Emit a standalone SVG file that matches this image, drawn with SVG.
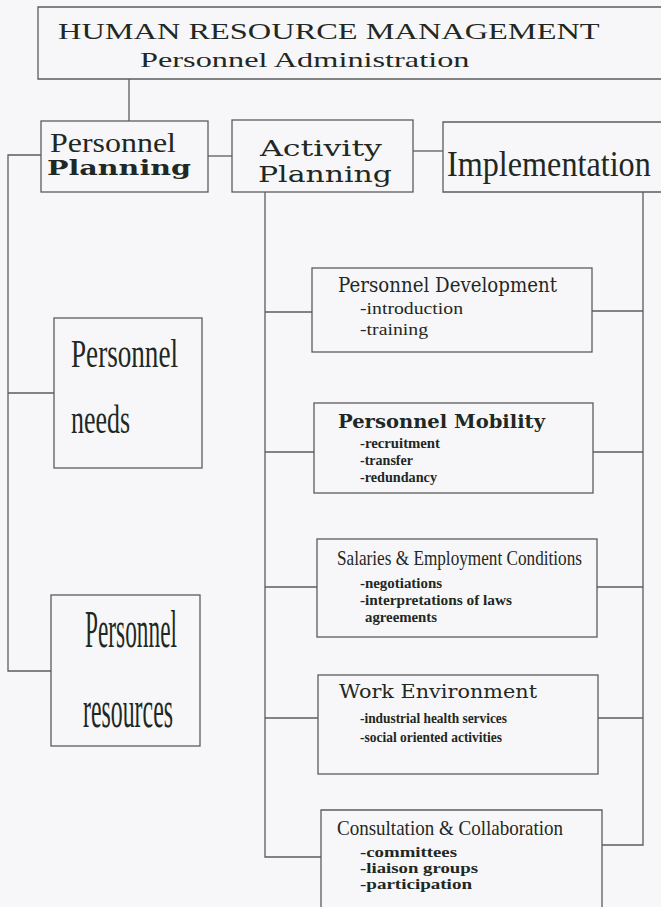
<svg xmlns="http://www.w3.org/2000/svg" width="661" height="907" viewBox="0 0 661 907">
<style>
.box{fill:none;stroke:#5c5c5c;stroke-width:1.3}
.ln{fill:none;stroke:#5c5c5c;stroke-width:1.3}
text{fill:#1f2823}
.tm{font-family:"Liberation Serif",serif}
.bk{font-family:"DejaVu Serif",serif}
.sub{font-family:"Liberation Serif",serif;font-weight:bold;font-size:14px}
</style>
<rect x="0" y="0" width="661" height="907" fill="#f7f7f9"/>
<g id="connectors">
<path class="ln" d="M129,79 V121"/>
<path class="ln" d="M208,156 H232"/>
<path class="ln" d="M413,151 H443"/>
<path class="ln" d="M41,155 H8 V671 H51"/>
<path class="ln" d="M8,393 H54"/>
<path class="ln" d="M265,192 V857 H321"/>
<path class="ln" d="M265,312 H312"/>
<path class="ln" d="M265,452 H314"/>
<path class="ln" d="M265,587 H317"/>
<path class="ln" d="M265,718 H318"/>
<path class="ln" d="M643,192 V845 H602"/>
<path class="ln" d="M592,311 H643"/>
<path class="ln" d="M593,452 H643"/>
<path class="ln" d="M597,587 H643"/>
<path class="ln" d="M598,718 H643"/>
</g>
<g id="hrm">
<path class="box" d="M661,7 H38 V79 H661"/>
<text class="tm" transform="translate(58,39) scale(1.35,1)" font-size="24">HUMAN RESOURCE MANAGEMENT</text>
<text class="tm" transform="translate(140,67) scale(1.47,1)" font-size="22">Personnel Administration</text>
</g>
<g id="personnel-planning">
<rect class="box" x="41" y="121" width="167" height="71"/>
<text class="tm" x="50" y="152" font-size="27" textLength="126" lengthAdjust="spacingAndGlyphs">Personnel</text>
<text class="bk" x="47" y="175" font-size="20" font-weight="bold" textLength="144" lengthAdjust="spacingAndGlyphs">Planning</text>
</g>
<g id="activity-planning">
<rect class="box" x="232" y="120" width="181" height="72"/>
<text class="bk" x="260" y="156" font-size="23" textLength="122" lengthAdjust="spacingAndGlyphs">Activity</text>
<text class="bk" x="258" y="182" font-size="23" textLength="134" lengthAdjust="spacingAndGlyphs">Planning</text>
</g>
<g id="implementation">
<path class="box" d="M661,122 H443 V192 H661"/>
<text class="tm" transform="translate(447,176) scale(0.92,1)" font-size="35">Implementation</text>
</g>
<g id="personnel-needs">
<rect class="box" x="54" y="318" width="148" height="150"/>
<text class="tm" x="71" y="367" font-size="41" textLength="107" lengthAdjust="spacingAndGlyphs">Personnel</text>
<text class="tm" x="71" y="433" font-size="41" textLength="59" lengthAdjust="spacingAndGlyphs">needs</text>
</g>
<g id="personnel-resources">
<rect class="box" x="51" y="595" width="149" height="151"/>
<text class="tm" x="85" y="647" font-size="52" textLength="92" lengthAdjust="spacingAndGlyphs">Personnel</text>
<text class="tm" x="83" y="727" font-size="52" textLength="90" lengthAdjust="spacingAndGlyphs">resources</text>
</g>
<g id="personnel-development">
<rect class="box" x="312" y="268" width="280" height="84"/>
<text class="bk" x="338" y="292" font-size="20" textLength="219" lengthAdjust="spacingAndGlyphs">Personnel Development</text>
<text class="tm" x="360" y="314" font-size="16" textLength="103" lengthAdjust="spacingAndGlyphs">-introduction</text>
<text class="tm" x="360" y="335" font-size="16" textLength="68" lengthAdjust="spacingAndGlyphs">-training</text>
</g>
<g id="personnel-mobility">
<rect class="box" x="314" y="403" width="279" height="90"/>
<text class="bk" x="338" y="428" font-size="19" font-weight="bold" textLength="207" lengthAdjust="spacingAndGlyphs">Personnel Mobility</text>
<text class="sub" x="360" y="448" font-size="13" textLength="80" lengthAdjust="spacingAndGlyphs">-recruitment</text>
<text class="sub" x="360" y="465" textLength="53" lengthAdjust="spacingAndGlyphs">-transfer</text>
<text class="sub" x="360" y="482" textLength="77" lengthAdjust="spacingAndGlyphs">-redundancy</text>
</g>
<g id="salaries">
<rect class="box" x="317" y="539" width="280" height="98"/>
<text class="tm" x="337" y="565" font-size="21" textLength="245" lengthAdjust="spacingAndGlyphs">Salaries &amp; Employment Conditions</text>
<text class="sub" x="360" y="588" textLength="82" lengthAdjust="spacingAndGlyphs">-negotiations</text>
<text class="sub" x="360" y="605" textLength="152" lengthAdjust="spacingAndGlyphs">-interpretations of laws</text>
<text class="sub" x="365" y="622" textLength="72" lengthAdjust="spacingAndGlyphs">agreements</text>
</g>
<g id="work-environment">
<rect class="box" x="318" y="675" width="280" height="99"/>
<text class="bk" x="339" y="698" font-size="19" textLength="198" lengthAdjust="spacingAndGlyphs">Work Environment</text>
<text class="sub" x="360" y="723" textLength="147" lengthAdjust="spacingAndGlyphs">-industrial health services</text>
<text class="sub" x="360" y="742" textLength="142" lengthAdjust="spacingAndGlyphs">-social oriented activities</text>
</g>
<g id="consultation">
<path class="box" d="M321,907 V810 H602 V907"/>
<text class="tm" x="337" y="835" font-size="21" textLength="226" lengthAdjust="spacingAndGlyphs">Consultation &amp; Collaboration</text>
<text class="sub" x="360" y="857" textLength="97" lengthAdjust="spacingAndGlyphs">-committees</text>
<text class="sub" x="360" y="873" textLength="118" lengthAdjust="spacingAndGlyphs">-liaison groups</text>
<text class="sub" x="360" y="889" textLength="112" lengthAdjust="spacingAndGlyphs">-participation</text>
</g>
</svg>
